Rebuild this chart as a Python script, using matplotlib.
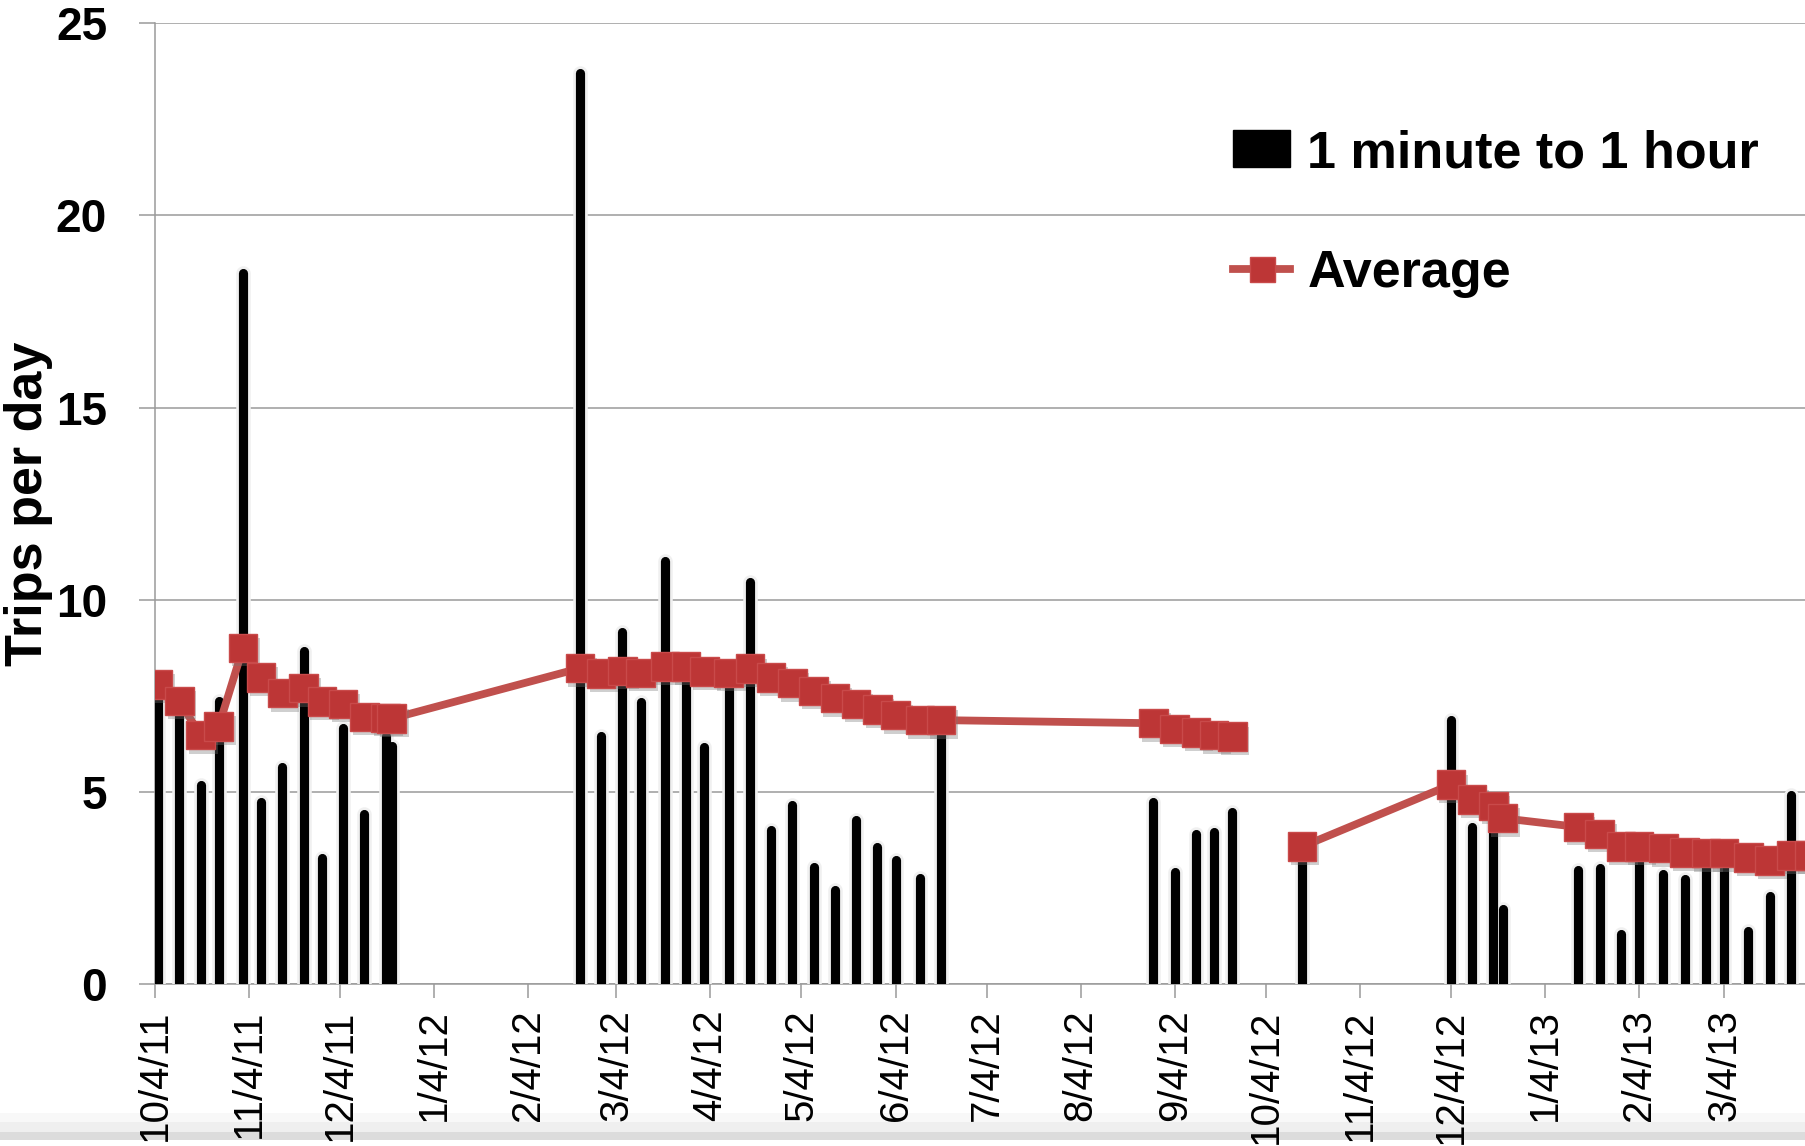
import matplotlib
matplotlib.use("Agg")
import matplotlib.pyplot as plt
import matplotlib.dates as mdates
from matplotlib import patheffects as pe
from matplotlib.lines import Line2D
from matplotlib.patches import Patch, Rectangle
import pandas as pd

plt.rcParams['font.family'] = ['Liberation Sans', 'DejaVu Sans']

# Weekly observation dates
trip_dates = [
    "2011-10-05", "2011-10-12", "2011-10-19", "2011-10-25", "2011-11-02", "2011-11-08",
    "2011-11-15", "2011-11-22", "2011-11-28", "2011-12-05", "2011-12-12", "2011-12-19",
    "2011-12-21",
    "2012-02-21", "2012-02-28", "2012-03-06", "2012-03-12", "2012-03-20", "2012-03-27",
    "2012-04-02", "2012-04-10", "2012-04-17", "2012-04-24", "2012-05-01", "2012-05-08",
    "2012-05-15", "2012-05-22", "2012-05-29", "2012-06-04", "2012-06-12", "2012-06-19",
    "2012-08-28", "2012-09-04", "2012-09-11", "2012-09-17", "2012-09-23",
    "2012-10-16",
    "2012-12-04", "2012-12-11", "2012-12-18", "2012-12-21",
    "2013-01-15", "2013-01-22", "2013-01-29", "2013-02-04", "2013-02-12", "2013-02-19",
    "2013-02-26", "2013-03-04", "2013-03-12", "2013-03-19", "2013-03-26", "2013-04-01",
]

# Trips per day lasting 1 minute to 1 hour
short_trips = [
    7.7, 7.2, 5.18, 7.38, 18.5, 4.74, 5.65, 8.66, 3.29, 6.66, 4.44, 6.45, 6.2,
    23.7, 6.47, 9.15, 7.33, 11.0, 8.0, 6.16, 7.8, 10.45, 4.01, 4.66, 3.06, 2.45,
    4.26, 3.58, 3.23, 2.76, 6.48,
    4.73, 2.93, 3.91, 3.95, 4.47,
    3.4,
    6.87, 4.08, 4.6, 1.97,
    2.98, 3.02, 1.30, 3.5, 2.86, 2.74, 3.3, 3.3, 1.38, 2.30, 4.93, 2.24,
]

# Running average of trips per day
average_trips = [
    7.80, 7.37, 6.48, 6.71, 8.75, 7.98, 7.57, 7.70, 7.35, 7.29, 6.95, 6.93, 6.91,
    8.22, 8.08, 8.15, 8.10, 8.26, 8.26, 8.14, 8.10, 8.21, 7.98, 7.83, 7.63, 7.44,
    7.29, 7.15, 7.00, 6.87, 6.87,
    6.79, 6.64, 6.55, 6.48, 6.44,
    3.58,
    5.19, 4.80, 4.64, 4.32,
    4.09, 3.91, 3.58, 3.58, 3.54, 3.43, 3.41, 3.41, 3.30, 3.22, 3.35, 3.35,
]

# the average line is broken between these two runs
avg_break = 36

y_ticks = [0, 5, 10, 15, 20, 25]
y_tick_labels = ["0", "5", "10", "15", "20", "25"]

BAR_BLACK = "#000000"
LINE_RED = "#c0504d"
MARK_RED = "#bd3636"
MARK_EDGE = "#c94a4a"
GRID_GRAY = "#9a9a9a"

dates = pd.to_datetime(trip_dates)

W, H = 1806, 1146
fig = plt.figure(figsize=(W / 100, H / 100), dpi=100)
left_px, right_px, top_px, bottom_px = 155, 1806, 23, 984.3
ax = fig.add_axes([left_px / W, 1 - bottom_px / H,
                   (right_px - left_px) / W, (bottom_px - top_px) / H])

# bars
bars = ax.vlines(dates, 0, short_trips, colors=BAR_BLACK, linewidth=6.6, zorder=3)
bars.set_capstyle("round")
bars.set_path_effects([pe.Stroke(linewidth=10.5, foreground="#f0f0f0"), pe.Normal()])

# average line in two runs, markers drawn on top with a soft shadow
for sl in (slice(0, avg_break), slice(avg_break, None)):
    ax.plot(dates[sl], average_trips[sl], color=LINE_RED, lw=5.6, zorder=4,
            solid_capstyle="round")
ax.plot(dates, average_trips, ls="none", marker="s", ms=20.5, mfc=MARK_RED,
        mec=MARK_EDGE, mew=1.0, zorder=5,
        path_effects=[pe.SimplePatchShadow(offset=(2, -3), shadow_rgbFace="#777777",
                                           alpha=0.35), pe.Normal()])

# axes styling
ax.set_ylim(0, 25)
ax.set_xlim(pd.Timestamp("2011-10-04"), pd.Timestamp("2013-03-31"))
ax.set_yticks(y_ticks, labels=y_tick_labels, fontweight="bold")
ax.xaxis.set_major_locator(mdates.MonthLocator(bymonthday=4))


def md_label(x, pos):
    d = mdates.num2date(x)
    return f"{d.month}/{d.day}/{d.year % 100}"


ax.xaxis.set_major_formatter(plt.FuncFormatter(md_label))
ax.tick_params(axis="x", length=10, width=1.1, color=GRID_GRAY, pad=8,
               labelsize=29, labelrotation=90)
ax.tick_params(axis="y", length=11.5, width=1.1, color=GRID_GRAY, pad=23, labelsize=33)
for s in ("top", "right"):
    ax.spines[s].set_visible(False)
for s in ("left", "bottom"):
    ax.spines[s].set_color(GRID_GRAY)
    ax.spines[s].set_linewidth(1.1)
ax.yaxis.grid(True, color=GRID_GRAY, lw=1.1)
ax.set_axisbelow(True)

ax.set_ylabel("Trips per day", fontsize=37.5, fontweight="bold")
ax.yaxis.set_label_coords(-0.062, 0.5)

# legend
bar_handle = Patch(facecolor=BAR_BLACK, edgecolor=BAR_BLACK, label="1 minute to 1 hour")
avg_handle = Line2D([], [], color=LINE_RED, lw=5.6, marker="s", ms=18, mfc=MARK_RED,
                    mec=MARK_EDGE, label="Average")
ax.legend(handles=[bar_handle, avg_handle], loc="upper left",
          bbox_to_anchor=(1233 / W, 1 - 129 / H), bbox_transform=fig.transFigure,
          frameon=False, prop={"weight": "bold", "size": 37.5},
          handlelength=1.1, handleheight=0.71, handletextpad=0.33,
          labelspacing=1.36, borderpad=0, borderaxespad=0, numpoints=1)

# gray strip along the bottom edge
for y0, y1, c in ((1113, 1122, "#f8f8f8"), (1122, 1132, "#efefef"), (1132, 1140, "#dcdcdc")):
    fig.add_artist(Rectangle((0, 1 - y1 / H), 1, (y1 - y0) / H, transform=fig.transFigure,
                             facecolor=c, edgecolor="none", zorder=-1))

fig.savefig("out.png", dpi=100)
